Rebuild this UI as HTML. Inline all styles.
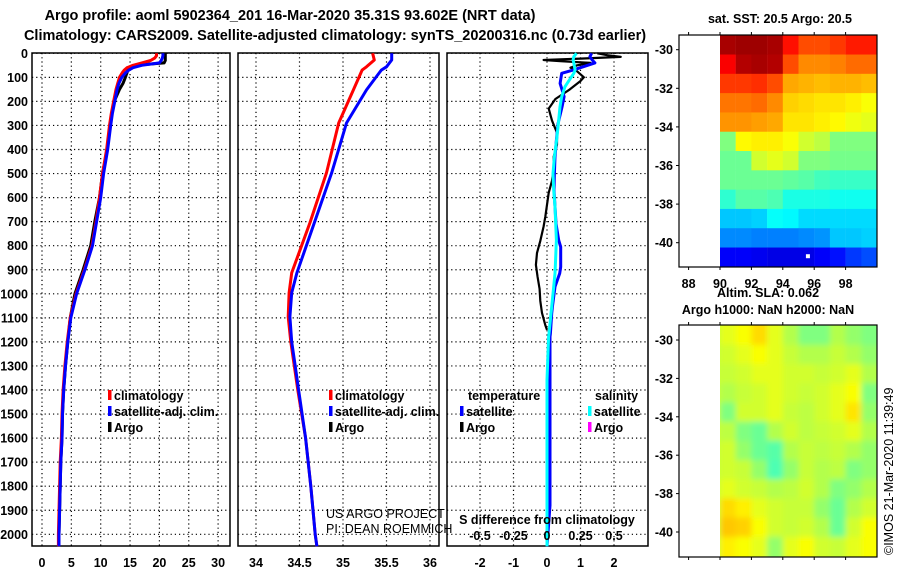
<!DOCTYPE html>
<html><head><meta charset="utf-8">
<style>
html,body{margin:0;padding:0;background:#fff;}
svg{display:block;font-family:"Liberation Sans",Arial,sans-serif;}
.b{font-weight:bold;}
</style></head>
<body>
<svg id="fig" width="900" height="580" viewBox="0 0 900 580" xmlns="http://www.w3.org/2000/svg">
<defs>
<filter id="soft" x="0" y="0" width="1" height="1"><feGaussianBlur stdDeviation="3"/></filter>
<clipPath id="clipSla"><rect x="720" y="325" width="157" height="232"/></clipPath>
</defs>
<rect width="900" height="580" fill="#fff"/>
<text class="b" x="290" y="20" font-size="14.5" text-anchor="middle">Argo profile: aoml 5902364_201 16-Mar-2020 35.31S 93.602E (NRT data)</text>
<text class="b" x="335" y="40" font-size="14.5" text-anchor="middle">Climatology: CARS2009. Satellite-adjusted climatology: synTS_20200316.nc (0.73d earlier)</text>
<text class="b" x="780" y="23" font-size="12.5" text-anchor="middle">sat. SST: 20.5 Argo: 20.5</text>
<text class="b" x="768" y="297" font-size="12.5" text-anchor="middle">Altim. SLA: 0.062</text>
<text class="b" x="768" y="314" font-size="12.5" text-anchor="middle">Argo h1000: NaN h2000: NaN</text>
<text x="0" y="0" font-size="12.5" transform="translate(893,555) rotate(-90)">©IMOS 21-Mar-2020 11:39:49</text>
<g id="g"></g>
</svg>
<script>
// ---------- data ----------
const depthTicks=[0,100,200,300,400,500,600,700,800,900,1000,1100,1200,1300,1400,1500,1600,1700,1800,1900,2000];
const tempTicks=[0,5,10,15,20,25,30];
const salTicks=[34,34.5,35,35.5,36];
const diffTTicks=[-2,-1,0,1,2];
const diffSTickLabels=["-0.5","-0.25","0","0.25","0.5"];
const diffSTicks=[-0.5,-0.25,0,0.25,0.5];

const tDepth=[0,10,20,30,40,50,60,70,80,100,125,150,200,250,300,400,500,600,700,800,900,1000,1100,1200,1300,1400,1500,1600,1700,1800,1900,2000,2050];
const tClim=[19.5,19.5,19.2,18.5,17,15.5,14.5,14,13.7,13.2,12.9,12.6,12.2,11.8,11.5,11.0,10.3,9.8,9.2,8.5,7.2,5.8,4.8,4.3,3.9,3.6,3.4,3.3,3.1,3.0,2.9,2.8,2.8];
const tSat=[20.6,20.6,20.5,20.3,20,17,15.5,14.8,14.3,13.6,13.1,12.8,12.4,12.0,11.7,11.2,10.5,10.0,9.3,8.6,7.3,5.9,4.9,4.4,4.0,3.7,3.5,3.4,3.2,3.1,3.0,2.9,2.9];
const tArgo=[21,21,21,21,20.8,16,15,14.6,14.5,14.2,13.8,13.2,12.3,11.9,11.6,11.1,10.3,9.8,9.0,8.3,7.0,5.6,4.8,4.4,4.0,3.7,3.5,3.4,3.2,3.1,3.0,2.9,2.9];

const sDepth=[0,28,56,70,152,290,497,705,913,996,1096,1200,1300,1400,1600,1800,2000,2050];
const sClim=[35.34,35.36,35.27,35.22,35.12,34.95,34.81,34.62,34.41,34.38,34.37,34.40,34.44,34.48,34.57,34.63,34.68,34.70];
const sSat=[35.56,35.56,35.50,35.44,35.27,35.04,34.87,34.67,34.47,34.41,34.39,34.41,34.45,34.49,34.57,34.63,34.68,34.70];

const dDepth=[0,14,28,40,70,83,125,139,180,222,291,361,430,500,569,638,708,777,805,888,915,971,1054,1082,1165,1179,1358,1880,2050];
const dTsat=[1.33,1.28,1.35,1.43,0.78,0.44,0.39,0.42,0.51,0.45,0.33,0.28,0.24,0.22,0.21,0.24,0.27,0.35,0.41,0.41,0.38,0.24,0.16,0.14,0.1,0.09,0.09,0.09,0.0];
const dSsat=[0.22,0.2,0.195,0.2,0.21,0.2,0.15,0.134,0.11,0.097,0.085,0.072,0.055,0.045,0.05,0.06,0.065,0.07,0.068,0.062,0.06,0.05,0.035,0.03,0.015,0.012,0.0,0.0,0.0];
const aDepth=[0,8,15,22,28,33,40,50,60,75,100,115,150,190,230,280,330,380,430,480,530,580,630,680,720,780,830,880,930,980,1030,1080,1130,1150];
const dTargo=[1.5,1.8,2.2,1.0,-0.1,0.4,1.3,0.9,0.7,0.9,1.1,1.0,0.68,0.25,0.05,0.15,0.3,0.3,0.2,0.2,0.15,0.05,0.0,-0.05,-0.1,-0.2,-0.3,-0.33,-0.28,-0.22,-0.2,-0.15,-0.05,0.0];

const mapLonTicks=[88,90,92,94,96,98];
const mapLatTicks=[-30,-32,-34,-36,-38,-40];
const gridLon0=90, gridLat0=-29.25; // cell origin (1 degree cells)
const sstGrid=[
[0.96,0.97,0.97,0.96,0.86,0.8,0.8,0.82,0.85,0.85],
[0.88,0.95,0.96,0.95,0.8,0.74,0.74,0.75,0.77,0.77],
[0.82,0.82,0.83,0.8,0.71,0.7,0.69,0.7,0.7,0.69],
[0.76,0.76,0.77,0.74,0.67,0.66,0.65,0.65,0.64,0.62],
[0.73,0.73,0.72,0.71,0.65,0.65,0.64,0.63,0.61,0.6],
[0.5,0.63,0.64,0.64,0.62,0.58,0.56,0.5,0.5,0.5],
[0.48,0.48,0.58,0.6,0.58,0.5,0.5,0.49,0.49,0.49],
[0.48,0.48,0.48,0.48,0.47,0.46,0.44,0.43,0.43,0.43],
[0.42,0.46,0.46,0.45,0.4,0.4,0.4,0.39,0.39,0.39],
[0.32,0.32,0.33,0.38,0.37,0.34,0.34,0.34,0.34,0.34],
[0.26,0.26,0.25,0.25,0.25,0.26,0.27,0.32,0.32,0.33],
[0.12,0.12,0.11,0.1,0.1,0.1,0.12,0.14,0.18,0.2]];
const slaGrid=[
[0.6,0.62,0.66,0.6,0.55,0.5,0.5,0.55,0.52,0.5],
[0.58,0.6,0.62,0.6,0.57,0.55,0.55,0.57,0.55,0.52],
[0.57,0.58,0.6,0.6,0.58,0.58,0.57,0.58,0.6,0.55],
[0.55,0.57,0.58,0.6,0.58,0.57,0.58,0.6,0.62,0.5],
[0.5,0.58,0.58,0.6,0.57,0.56,0.58,0.6,0.65,0.52],
[0.56,0.5,0.48,0.55,0.58,0.56,0.57,0.58,0.6,0.55],
[0.58,0.52,0.48,0.46,0.55,0.57,0.56,0.57,0.55,0.52],
[0.58,0.57,0.52,0.45,0.52,0.57,0.55,0.56,0.5,0.52],
[0.6,0.58,0.57,0.55,0.56,0.58,0.55,0.5,0.52,0.55],
[0.66,0.64,0.6,0.58,0.57,0.57,0.52,0.48,0.55,0.58],
[0.68,0.67,0.62,0.58,0.57,0.58,0.55,0.48,0.58,0.62],
[0.64,0.62,0.6,0.52,0.6,0.62,0.58,0.57,0.6,0.62]];
const argoLon=95.6, argoLat=-40.7;

// ---------- helpers ----------
const NS="http://www.w3.org/2000/svg";
const G=document.getElementById('g');
function mk(tag,attrs,parent){const e=document.createElementNS(NS,tag);for(const k in attrs)e.setAttribute(k,attrs[k]);(parent||G).appendChild(e);return e;}
const yD=d=>53.3+d*0.2405;
const Y0=53, Y1=546;

function panel(x0,x1,xs,xticks,xlabels,name,showDepthLabels){
  const grp=mk('g',{});
  
  
  depthTicks.forEach(d=>{
    const l=mk('line',{x1:x0,x2:x1,y1:yD(d),y2:yD(d),stroke:'#000','stroke-width':1.2,'stroke-dasharray':'1.2,3'},grp);
    
    
    if(showDepthLabels){
      const t=mk('text',{x:28,y:yD(d)+4.5,'font-size':12.5,'font-weight':'bold','text-anchor':'end'},grp);
      t.textContent=d;
      
      
    }
  });
  xticks.forEach((v,i)=>{
    const x=xs(v);
    const l=mk('line',{x1:x,x2:x,y1:Y0,y2:Y1,stroke:'#000','stroke-width':1.2,'stroke-dasharray':'1.2,3'},grp);
    
    
    if(xlabels){
      const t=mk('text',{x:x,y:567,'font-size':12.5,'font-weight':'bold','text-anchor':'middle'},grp);
      t.textContent=xlabels[i];
      
      
    }
  });
  const fr=mk('rect',{x:x0,y:Y0,width:x1-x0,height:Y1-Y0,fill:'none',stroke:'#000','stroke-width':1.5},grp);
  
  
  return grp;
}
function line(xs,xv,dv,color,w,name,parent){
  const pts=xv.map((v,i)=>xs(v).toFixed(1)+','+yD(dv[i]).toFixed(1)).join(' ');
  const p=mk('polyline',{points:pts,fill:'none',stroke:color,'stroke-width':w,'stroke-linejoin':'round'},parent);
  
  
}
function legendEntry(x,y,color,label,parent){
  const r=mk('rect',{x:x,y:y-10,width:3.5,height:10,fill:color},parent);
  
  
  const t=mk('text',{x:x+6,y:y,'font-size':12.5,'font-weight':'bold'},parent);
  t.textContent=label;
  
  
}

// ---------- panel 1: temperature ----------
const xT=v=>42+v*5.87;
const p1=panel(32,230,xT,tempTicks,tempTicks,'temperature-panel',true);
line(xT,tArgo,tDepth,'#000',3,'argo-temperature-line',p1);
line(xT,tClim,tDepth,'#f00',3,'climatology-temperature-line',p1);
line(xT,tSat,tDepth,'#00f',3,'satellite-temperature-line',p1);
legendEntry(108,400,'#f00','climatology',p1);
legendEntry(108,416,'#00f','satellite-adj. clim.',p1);
legendEntry(108,432,'#000','Argo',p1);

// ---------- panel 2: salinity ----------
const xS=v=>256+(v-34)*87;
const p2=panel(238,439,xS,salTicks,salTicks,'salinity-panel',false);
line(xS,sClim,sDepth,'#f00',3,'climatology-salinity-line',p2);
line(xS,sSat,sDepth,'#00f',3,'satellite-salinity-line',p2);
legendEntry(329,400,'#f00','climatology',p2);
legendEntry(329,416,'#00f','satellite-adj. clim.',p2);
legendEntry(329,432,'#000','Argo',p2);
[['US ARGO PROJECT',518],['PI: DEAN ROEMMICH',533]].forEach(a=>{
  const t=mk('text',{x:326,y:a[1],'font-size':12.5},p2);t.textContent=a[0];
  
  
});

// ---------- panel 3: differences ----------
const xDT=v=>547+v*33.5;
const xDS=v=>547+v*134;
const p3=panel(447,648,xDT,diffTTicks,diffTTicks,'difference-panel',false);
line(xDT,dTargo,aDepth,'#000',2.2,'argo-temperature-difference-line',p3);
line(xDT,dTsat,dDepth,'#00f',3,'satellite-temperature-difference-line',p3);
line(xDS,dSsat,dDepth,'#0ff',3,'satellite-salinity-difference-line',p3);
diffSTicks.forEach((v,i)=>{
  const t=mk('text',{x:xDS(v),y:540,'font-size':12.5,'font-weight':'bold','text-anchor':'middle'},p3);
  t.textContent=diffSTickLabels[i];
  
  
});
{const t=mk('text',{x:547,y:524,'font-size':12.5,'font-weight':'bold','text-anchor':'middle'},p3);
 t.textContent='S difference from climatology';
 
 }
{const t=mk('text',{x:468,y:400,'font-size':12.5,'font-weight':'bold'},p3);t.textContent='temperature';
 
 const t2=mk('text',{x:595,y:400,'font-size':12.5,'font-weight':'bold'},p3);t2.textContent='salinity';
 }
legendEntry(460,416,'#00f','satellite',p3);
legendEntry(460,432,'#000','Argo',p3);
legendEntry(588,416,'#0ff','satellite',p3);
legendEntry(588,432,'#f0f','Argo',p3);

// ---------- maps ----------
function jet(v){const c=x=>Math.round(255*Math.max(0,Math.min(1,x)));
  return 'rgb('+c(1.5-Math.abs(4*v-3))+','+c(1.5-Math.abs(4*v-2))+','+c(1.5-Math.abs(4*v-1))+')';}
function mapPanel(top,bottom,latY30,pxLat,grid,name,lonLabels,soft){
  const grp=mk('g',{});
  
  
  const xL=lon=>720+(lon-90)*15.7;
  const yL=lat=>latY30+(-30-lat)*pxLat;
  let cellParent=grp;
  if(soft){
    const cg=mk('g',{'clip-path':'url(#clipSla)'},grp);
    cellParent=mk('g',{filter:'url(#soft)'},cg);
    const bg=mk('rect',{x:710,y:top-10,width:180,height:bottom-top+20,fill:jet(0.57)},cellParent);
    
    
  }
  grid.forEach((row,r)=>row.forEach((v,c)=>{
    let y0=yL(gridLat0-r), y1=yL(gridLat0-r-1);
    if(!soft){y0=Math.max(top,y0);y1=Math.min(bottom,y1);}
    else{ if(r===0) y0-=10; if(r===grid.length-1) y1+=10; }
    const cell=mk('rect',{x:xL(gridLon0+c),y:y0,width:(soft&&c===row.length-1)?30:15.9,height:y1-y0+0.4,fill:jet(v)},cellParent);
    
    
  }));
  const fr=mk('rect',{x:679,y:top,width:198,height:bottom-top,fill:'none',stroke:'#000','stroke-width':1.2},grp);
  
  
  mapLatTicks.forEach(lat=>{
    const y=yL(lat);
    mk('line',{x1:676,x2:679,y1:y,y2:y,stroke:'#000'},grp);
    const t=mk('text',{x:673,y:y+4.5,'font-size':12.5,'font-weight':'bold','text-anchor':'end'},grp);
    t.textContent=lat;
    
    
  });
  mapLonTicks.forEach(lon=>{
    const x=xL(lon);
    mk('line',{x1:x,x2:x,y1:top-3,y2:top,stroke:'#000'},grp);
    mk('line',{x1:x,x2:x,y1:bottom,y2:bottom+3,stroke:'#000'},grp);
    if(lonLabels){
      const t=mk('text',{x:x,y:288,'font-size':12.5,'font-weight':'bold','text-anchor':'middle'},grp);
      t.textContent=lon;
      
      
    }
  });
  return {grp,xL,yL};
}
const m1=mapPanel(35,267,49.7,19.3,sstGrid,'sst-map',true,false);
{const d=mk('rect',{x:m1.xL(argoLon)-2,y:m1.yL(argoLat)-2,width:4,height:4,fill:'#fff'},m1.grp);
 
 }
mapPanel(325,557,340,19.2,slaGrid,'sla-map',false,true);
</script>
</body></html>
